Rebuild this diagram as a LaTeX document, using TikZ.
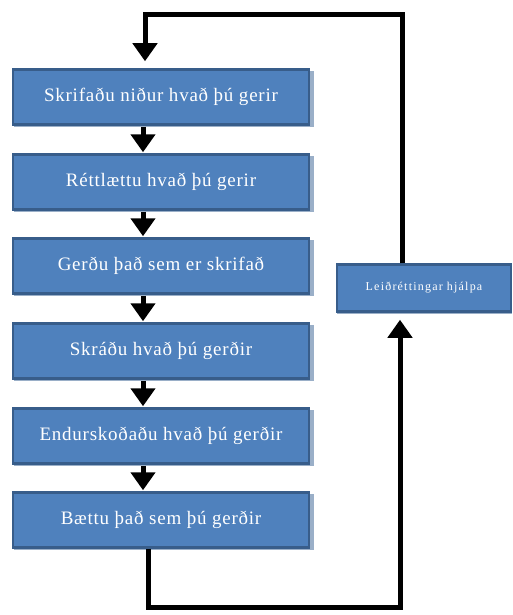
\documentclass[tikz,border=0pt]{standalone}
\usepackage{fontspec}
\setmainfont{Liberation Serif}
\usetikzlibrary{arrows.meta}
\definecolor{stepfill}{HTML}{4F81BD}
\definecolor{stepedge}{HTML}{385D8A}
\definecolor{stepshade}{HTML}{9AAFC8}
\begin{document}
\begin{tikzpicture}[x=1pt,y=-1pt,
  stepbox/.style={draw=stepedge, fill=stepfill, line width=2.5pt,
    minimum width=296pt, minimum height=55pt, inner sep=0pt,
    text=white, font=\fontsize{19}{21}\selectfont\addfontfeature{LetterSpace=4}},
  sidebox/.style={stepbox, minimum width=174pt, minimum height=47pt,
    font=\fontsize{12}{14}\selectfont\addfontfeature{LetterSpace=10}},
  headtip/.tip={Triangle[width=24pt,length=18pt]},
  flow/.style={line width=5pt, -headtip},
  loopline/.style={line width=5pt}]
\useasboundingbox (0,0) rectangle (512,615);

% faint drop edges under the boxes
\foreach \y in {97,182,266,351,436,520}
  \fill[stepshade] (14,\y-26) rectangle (314,\y+30);
\fill[stepshade] (337,265) rectangle (512,314);

\node[stepbox] (b1) at (161,97)  {Skrifaðu niður hvað þú gerir};
\node[stepbox] (b2) at (161,182) {Réttlættu hvað þú gerir};
\node[stepbox] (b3) at (161,266) {Gerðu það sem er skrifað};
\node[stepbox] (b4) at (161,351) {Skráðu hvað þú gerðir};
\node[stepbox] (b5) at (161,436) {Endurskoðaðu hvað þú gerðir};
\node[stepbox] (b6) at (161,520) {Bættu það sem þú gerðir};
\node[sidebox] (fb) at (424,288) {Leiðréttingar hjálpa};

% arrows between the steps
\foreach \a/\b in {b1/b2,b2/b3,b3/b4,b4/b5,b5/b6}
  \draw[flow, shorten <=1pt, shorten >=1pt]
    ([xshift=-18pt]\a.south) -- ([xshift=-18pt]\b.north);

% feedback loop
\coordinate (br) at (400,607);
\coordinate (tr) at (402,15);
\draw[loopline, -headtip, shorten >=7pt]
  ([xshift=-13pt]b6.south) |- (br) -- (br |- fb.south);
\draw[loopline, -headtip, shorten >=7pt]
  (tr |- fb.north) -- (tr) -| ([xshift=-16pt]b1.north);
\end{tikzpicture}
\end{document}
